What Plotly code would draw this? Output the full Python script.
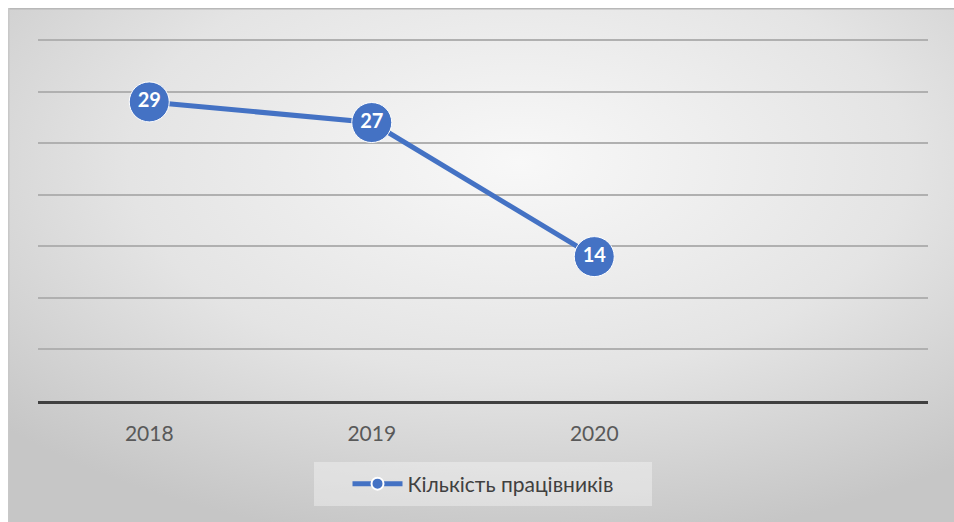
import base64
import plotly.graph_objects as go

years = ["2018", "2019", "2020"]
employees = [29, 27, 14]
series_name = "Кількість працівників"

W, H = 954, 522
L, R, T, B = 38, 26, 39, 121
pw, ph = W - L - R, H - T - B
OX, OY = 8, 8  # white border at top-left of the chart image

BW, BH = W - OX, H - OY
svg = f"""<svg xmlns='http://www.w3.org/2000/svg' width='{BW}' height='{BH}' viewBox='0 0 {BW} {BH}' preserveAspectRatio='none'>
<defs><radialGradient id='g' cx='0.54' cy='0.3' r='0.75' gradientUnits='objectBoundingBox'>
<stop offset='0' stop-color='#f8f8f8'/><stop offset='0.55' stop-color='#e4e4e4'/><stop offset='1' stop-color='#c6c6c6'/>
</radialGradient></defs>
<rect width='{BW}' height='{BH}' fill='url(#g)'/>
<rect width='{BW}' height='1.5' fill='#b8b8b8'/>
<rect width='1.5' height='{BH}' fill='#c8c8c8'/>
</svg>"""
src = "data:image/svg+xml;base64," + base64.b64encode(svg.encode()).decode()


def px(x):
    return (x - L) / pw


def py(y):
    return (H - B - y) / ph


fig = go.Figure()
fig.add_trace(go.Scatter(
    x=years, y=employees, mode="lines+markers", name=series_name,
    line=dict(color="#4472c4", width=5),
    marker=dict(size=40, color="#4472c4", line=dict(color="white", width=1)),
    hoverinfo="skip",
))
fig.add_trace(go.Scatter(
    x=years, y=employees, mode="text", text=[str(v) for v in employees],
    textposition="middle center",
    textfont=dict(color="white", size=20, family="Lato", weight="bold"),
    showlegend=False, hoverinfo="skip",
))

fig.add_layout_image(dict(
    source=src, xref="paper", yref="paper",
    x=px(OX), y=py(OY), sizex=BW / pw, sizey=BH / ph,
    xanchor="left", yanchor="top", sizing="stretch", layer="below",
))
fig.add_shape(type="rect", xref="paper", yref="paper",
              x0=px(314), x1=px(652), y0=py(506), y1=py(462),
              fillcolor="rgba(255,255,255,0.35)", line=dict(width=0), layer="below")

fig.update_layout(
    width=W, height=H,
    margin=dict(l=L, r=R, t=T, b=B),
    paper_bgcolor="white", plot_bgcolor="rgba(0,0,0,0)",
    font=dict(family="Lato", color="#595959"),
    showlegend=True,
    legend=dict(orientation="h", x=0.5, xanchor="center", y=py(484), yanchor="middle",
                bgcolor="rgba(0,0,0,0)", font=dict(size=21, color="#404040"),
                itemsizing="constant", itemwidth=50),
    xaxis=dict(type="category", categoryorder="array", categoryarray=years,
               range=[-0.5, 3.5], showgrid=False, showline=True,
               linecolor="#404040", linewidth=3, ticks="",
               tickfont=dict(size=21, color="#595959"), ticklabelstandoff=12,
               zeroline=False, fixedrange=True),
    yaxis=dict(range=[0, 35.1], tickvals=[5, 10, 15, 20, 25, 30, 35], showticklabels=False,
               showgrid=True, gridcolor="#b0b0b0", gridwidth=2, zeroline=False,
               fixedrange=True),
)

fig.write_html("out.html", config={"displayModeBar": False, "staticPlot": True},
               post_script="document.body.style.margin='0';document.body.style.overflow='hidden';")
